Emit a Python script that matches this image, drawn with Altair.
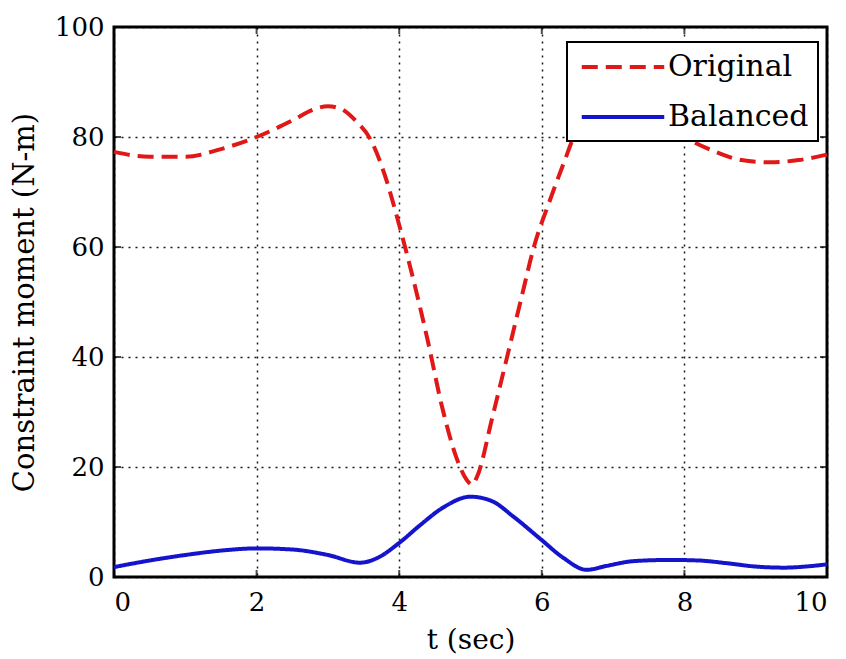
import altair as alt
import pandas as pd

t_orig = [0, 0.5, 1.0, 1.5, 2.0, 2.5, 2.8, 3.0, 3.2, 3.4, 3.6, 3.8, 4.0, 4.2, 4.4, 4.6, 4.8, 4.95, 5.02,
          5.1, 5.3, 5.5, 5.7, 5.9, 6.1, 6.3, 6.5, 6.7, 7.0, 7.3, 7.6, 8.0, 8.4, 8.8, 9.2, 9.6, 10.0]
v_orig = [77.3, 76.4, 76.4, 77.8, 80.0, 83.0, 85.0, 85.6, 85.0, 82.8, 79.5, 73.0, 64.0, 54.0, 43.0, 31.0, 21.8, 17.6, 16.8,
          18.5, 28.7, 39.3, 50.0, 60.5, 68.0, 75.0, 81.5, 84.5, 86.0, 85.5, 83.5, 80.0, 77.5, 75.8, 75.4, 75.8, 76.8]

t_bal = [0, 0.5, 1.0, 1.5, 2.0, 2.5, 3.0, 3.45, 3.7, 4.0, 4.3, 4.6, 5.0, 5.3, 5.6, 6.0, 6.3, 6.63,
         6.9, 7.3, 7.8, 8.2, 8.6, 9.0, 9.4, 9.7, 10.0]
v_bal = [1.8, 3.0, 4.0, 4.8, 5.2, 5.0, 4.0, 2.6, 3.5, 6.2, 9.5, 12.5, 14.6, 13.8, 11.0, 6.7, 3.5, 1.3,
         2.0, 2.9, 3.1, 3.0, 2.5, 1.9, 1.7, 1.9, 2.3]

series = ["Original", "Balanced"]
x_ticks = [0, 2, 4, 6, 8, 10]
y_ticks = [0, 20, 40, 60, 80, 100]

df = pd.concat([
    pd.DataFrame({"t": t_orig, "v": v_orig, "s": series[0]}),
    pd.DataFrame({"t": t_bal, "v": v_bal, "s": series[1]}),
])

FONT = "DejaVu Serif"
W, H = 713, 550

xs = alt.Scale(domain=[0, 10], nice=False)
ys = alt.Scale(domain=[0, 100], nice=False)

lines = alt.Chart(df).mark_line(strokeWidth=4, interpolate="monotone").encode(
    x=alt.X("t:Q", scale=xs, title="t (sec)",
            axis=alt.Axis(values=x_ticks, format="d", grid=True, gridColor="black", gridDash=[2, 5],
                          gridOpacity=0.9, gridWidth=1.5, ticks=False, domain=False,
                          labelFont=FONT, labelFontSize=26,
                          labelColor="black", labelPadding=12,
                          titleFont=FONT, titleFontSize=28, titleFontWeight="normal",
                          titleColor="black", titlePadding=11)),
    y=alt.Y("v:Q", scale=ys, title="Constraint moment (N-m)",
            axis=alt.Axis(values=y_ticks, format="d", grid=True, gridColor="black", gridDash=[2, 5],
                          gridOpacity=0.9, gridWidth=1.5, ticks=False, domain=False,
                          labelFont=FONT, labelFontSize=26,
                          labelColor="black", labelPadding=10,
                          titleFont=FONT, titleFontSize=29, titleFontWeight="normal",
                          titleColor="black", titlePadding=15)),
    color=alt.Color("s:N", scale=alt.Scale(domain=series, range=["#e01818", "#1414cc"]),
                    legend=alt.Legend(title=None, orient="none", legendX=453, legendY=15,
                                      symbolType="M-3,0H3", symbolSize=756, symbolStrokeWidth=4,
                                      symbolOffset=31,
                                      labelFont=FONT, labelFontSize=30,
                                      labelColor="black",
                                      fillColor="white", strokeColor="black",
                                      padding=9, rowPadding=19, labelOffset=29)),
    strokeDash=alt.StrokeDash("s:N", scale=alt.Scale(domain=series, range=[[16, 8], [1, 0]]),
                              legend=None),
    detail="s:N",
)

tick_df = pd.DataFrame({"xt": x_ticks})
ytick_df = pd.DataFrame({"yt": y_ticks})
xt_bottom = alt.Chart(tick_df).mark_tick(color="black", size=14, thickness=2, clip=True).encode(
    x=alt.X("xt:Q", scale=xs), y=alt.value(H))
xt_top = alt.Chart(tick_df).mark_tick(color="black", size=14, thickness=2, clip=True).encode(
    x=alt.X("xt:Q", scale=xs), y=alt.value(0))
yt_left = alt.Chart(ytick_df).mark_tick(color="black", size=14, thickness=2, clip=True).encode(
    y=alt.Y("yt:Q", scale=ys), x=alt.value(0))
yt_right = alt.Chart(ytick_df).mark_tick(color="black", size=14, thickness=2, clip=True).encode(
    y=alt.Y("yt:Q", scale=ys), x=alt.value(W))

chart = alt.layer(lines, xt_bottom, xt_top, yt_left, yt_right).properties(
    width=W, height=H,
    autosize=alt.AutoSizeParams(type="none"),
    padding={"left": 114, "top": 27, "right": 19, "bottom": 82},
    background="white",
).configure_view(stroke="black", strokeWidth=3).configure_legend(strokeWidth=2)

chart.save("out.html", embed_options={"renderer": "svg", "actions": False})
